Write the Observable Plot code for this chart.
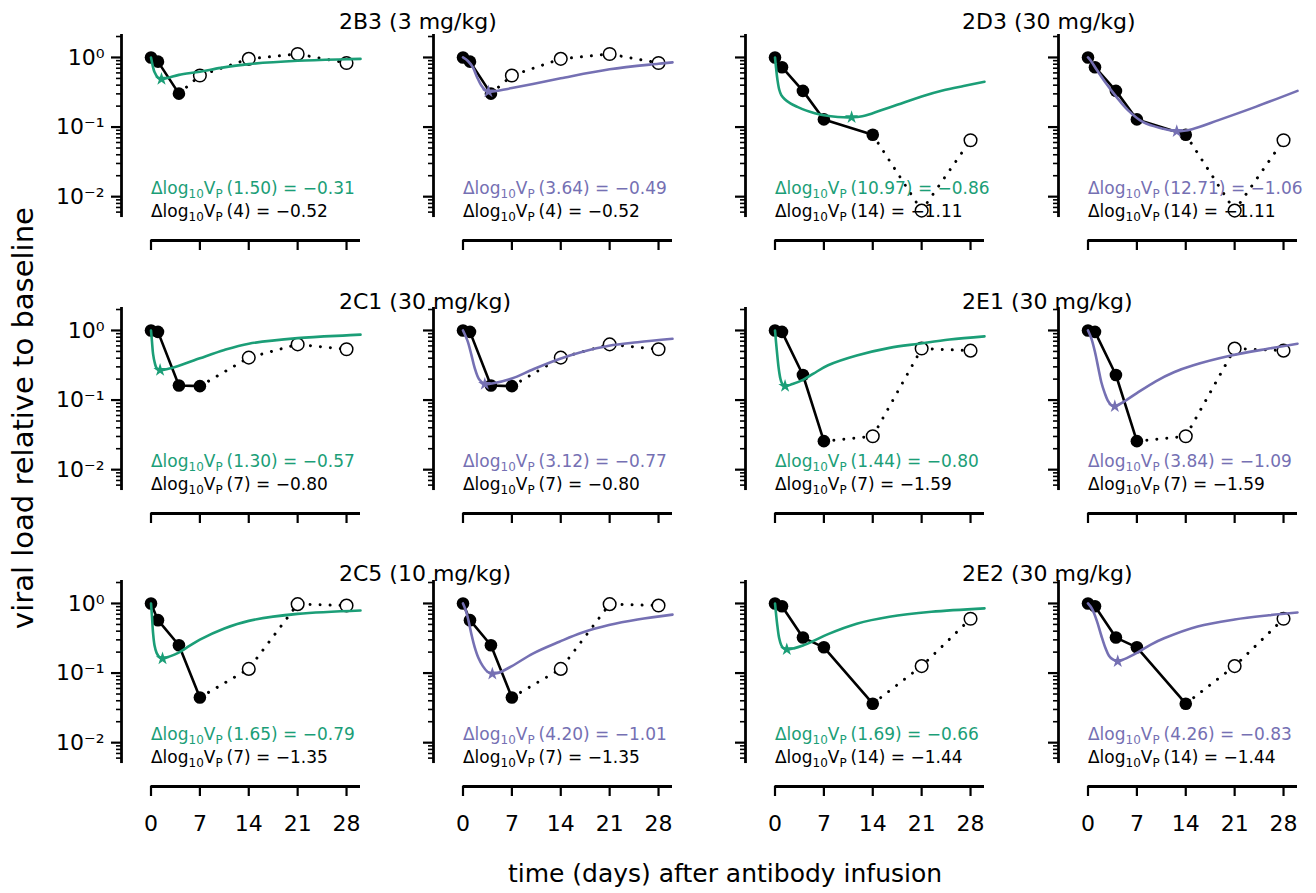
<!DOCTYPE html>
<html>
<head>
<meta charset="utf-8">
<script src="https://cdn.jsdelivr.net/npm/d3@7"></script>
<script src="https://cdn.jsdelivr.net/npm/@observablehq/plot@0.6"></script>
<style>
  body { margin: 0; background: #fff; }
  #root { position: relative; width: 1316px; height: 893px; font-family: "DejaVu Sans"; color: #000; background: #fff; overflow: hidden; }
  .lbl { position: absolute; white-space: nowrap; }
  .panel { position: absolute; }
</style>
</head>
<body>
<div id="root"></div>
<script>
// ---------------- data ----------------
const GREEN = "#1b9e77", PURPLE = "#7570b3";
const days = [0, 1, 4, 7, 14, 21, 28];
const ids = ["2B3", "2D3", "2C1", "2E1", "2C5", "2E2"];
const doses = ["3 mg/kg", "30 mg/kg", "30 mg/kg", "30 mg/kg", "10 mg/kg", "30 mg/kg"];

// observed log10 viral load relative to baseline, at `days`
const obs2B3 = [0, -0.06, -0.52, -0.26, -0.02, 0.05, -0.08];
const obs2D3 = [0, -0.14, -0.48, -0.89, -1.11, -2.20, -1.19];
const obs2C1 = [0, -0.02, -0.79, -0.80, -0.39, -0.20, -0.27];
const obs2E1 = [0, -0.02, -0.64, -1.59, -1.52, -0.26, -0.29];
const obs2C5 = [0, -0.24, -0.60, -1.35, -0.94, -0.01, -0.03];
const obs2E2 = [0, -0.04, -0.49, -0.63, -1.44, -0.90, -0.22];

// annotation values
const greenTmin = [1.50, 10.97, 1.30, 1.44, 1.65, 1.69];
const greenDrop = [-0.31, -0.86, -0.57, -0.80, -0.79, -0.66];
const purpleTmin = [3.64, 12.71, 3.12, 3.84, 4.20, 4.26];
const purpleDrop = [-0.49, -1.06, -0.77, -1.09, -1.01, -0.83];
const obsDay = [4, 14, 7, 7, 7, 14];
const obsDrop = [-0.52, -1.11, -0.80, -1.59, -1.35, -1.44];

// model fits: [day, log10 change]
const fitG_2B3 = [[0,0],[0.25,-0.12],[0.5,-0.21],[1,-0.29],[1.5,-0.31],[2.5,-0.29],[4,-0.25],[7,-0.205],[10,-0.15],[14,-0.096],[21,-0.048],[28,-0.025],[30,-0.02]];
const fitP_2B3 = [[0,0],[0.7,-0.05],[1.4,-0.14],[2,-0.28],[2.6,-0.40],[3.1,-0.46],[3.64,-0.49],[4.5,-0.485],[7,-0.44],[10,-0.38],[14,-0.30],[21,-0.17],[28,-0.09],[30,-0.07]];
const fitG_2D3 = [[0,0],[0.15,-0.15],[0.35,-0.32],[0.6,-0.46],[0.9,-0.54],[1.4,-0.60],[2.2,-0.66],[3.2,-0.71],[4.4,-0.76],[5.7,-0.80],[7,-0.83],[9,-0.855],[10.97,-0.86],[12.5,-0.845],[14,-0.80],[17.5,-0.68],[21,-0.56],[24,-0.475],[27,-0.41],[30,-0.35]];
const fitP_2D3 = [[0,0],[0.5,-0.06],[1.2,-0.17],[2.5,-0.36],[4.1,-0.57],[5.75,-0.76],[7.9,-0.93],[10.6,-1.02],[12.71,-1.06],[14.9,-1.03],[18.7,-0.90],[24,-0.71],[30,-0.48]];
const fitG_2C1 = [[0,0],[0.15,-0.17],[0.3,-0.34],[0.55,-0.47],[0.8,-0.54],[1.3,-0.57],[2.5,-0.55],[3.9,-0.51],[7,-0.40],[10.5,-0.28],[14,-0.19],[21,-0.11],[28,-0.07],[30,-0.06]];
const fitP_2C1 = [[0,0],[0.65,-0.15],[1.2,-0.35],[1.65,-0.53],[2.3,-0.70],[3.12,-0.77],[4.5,-0.755],[7,-0.69],[10,-0.56],[13.8,-0.41],[17,-0.31],[20.9,-0.22],[25,-0.17],[30,-0.12]];
const fitG_2E1 = [[0,0],[0.15,-0.17],[0.35,-0.38],[0.55,-0.56],[0.77,-0.69],[1.0,-0.76],[1.44,-0.80],[2.5,-0.77],[4,-0.71],[5.5,-0.62],[7.6,-0.50],[11.7,-0.36],[16.4,-0.25],[20.6,-0.19],[25,-0.13],[30,-0.085]];
const fitP_2E1 = [[0,0],[0.5,-0.12],[1.0,-0.31],[1.5,-0.55],[1.9,-0.74],[2.4,-0.90],[2.8,-1.0],[3.3,-1.07],[3.84,-1.09],[4.5,-1.06],[5.5,-1.0],[7,-0.90],[9.7,-0.73],[12.3,-0.60],[15.1,-0.50],[20.5,-0.36],[25.9,-0.26],[30,-0.19]];
const fitG_2C5 = [[0,0],[0.15,-0.2],[0.3,-0.43],[0.5,-0.60],[0.8,-0.71],[1.2,-0.77],[1.65,-0.79],[2.7,-0.76],[3.9,-0.71],[5.5,-0.61],[7,-0.52],[10.5,-0.36],[14,-0.25],[21,-0.15],[30,-0.10]];
const fitP_2C5 = [[0,0],[0.4,-0.10],[0.77,-0.24],[1.2,-0.44],[1.65,-0.62],[2.2,-0.78],[2.84,-0.90],[3.5,-0.98],[4.2,-1.01],[5,-1.0],[7,-0.90],[10,-0.72],[13.8,-0.55],[17,-0.42],[20.9,-0.31],[25,-0.23],[30,-0.16]];
const fitG_2E2 = [[0,0],[0.15,-0.15],[0.35,-0.33],[0.6,-0.50],[0.9,-0.60],[1.2,-0.64],[1.69,-0.66],[2.7,-0.645],[4,-0.605],[5.5,-0.54],[7.6,-0.44],[11.7,-0.29],[16.4,-0.19],[22.4,-0.12],[30,-0.07]];
const fitP_2E2 = [[0,0],[0.6,-0.08],[1.3,-0.26],[1.9,-0.46],[2.5,-0.64],[3.0,-0.75],[3.5,-0.80],[4.26,-0.83],[5.2,-0.80],[7,-0.71],[9,-0.59],[10.9,-0.50],[15.7,-0.33],[21,-0.23],[25.9,-0.17],[30,-0.13]];

const xTicks = [0, 7, 14, 21, 28];
const yMajor = [1, 0.1, 0.01];
const yMajorLabels = ["10\u2070", "10\u207B\u00B9", "10\u207B\u00B2"];
const xLabel = "time (days) after antibody infusion";
const yLabel = "viral load relative to baseline";

// ---------------- layout ----------------
const observed = [obs2B3, obs2D3, obs2C1, obs2E1, obs2C5, obs2E2];
const fits = [[fitG_2B3, fitP_2B3], [fitG_2D3, fitP_2D3], [fitG_2C1, fitP_2C1],
              [fitG_2E1, fitP_2E1], [fitG_2C5, fitP_2C5], [fitG_2E2, fitP_2E2]];

const X0 = [150, 462, 774.5, 1087];       // pixel of day 0 per column
const ROW1 = [56.7, 329.5, 603.3];        // pixel of 10^0 per row
const DEC = 69.6;                         // px per decade
const ML = 70, MR = 11, MT = 10, MB = 50, FW = 239;
const PXDAY = (FW - 29.5) / 30;
const XMIN = -29.5 / PXDAY;
const YTOP = 10 ** 0.33, YSPB = 10 ** -2.30, YBOT = 10 ** -2.63;
const FH = 2.96 * DEC;

const minorTicks = d3.scaleLog().domain([YSPB, YTOP]).ticks()
  .filter(v => Math.abs(Math.log10(v) - Math.round(Math.log10(v))) > 1e-6);

const fmt = v => (v < 0 ? "\u2212" : "") + Math.abs(v).toFixed(2);

const root = document.getElementById("root");

function panel(s, m, r, c) {
  const color = m === 0 ? GREEN : PURPLE;
  const tmin = m === 0 ? greenTmin[s] : purpleTmin[s];
  const drop = m === 0 ? greenDrop[s] : purpleDrop[s];
  const obs = days.map((d, i) => ({t: d, v: 10 ** observed[s][i]}));
  const k = days.indexOf(obsDay[s]);
  const filled = obs.slice(0, k + 1);
  const dotted = obs.slice(k);
  const openPts = obs.slice(k + 1);
  const fit = fits[s][m].map(([t, lv]) => ({t, v: 10 ** lv}));
  const star = [{t: tmin, v: 10 ** drop}];
  const annoModel = [`\u0394log10VP(${tmin.toFixed(2)}) = ${fmt(drop)}`];
  const annoObs = [`\u0394log10VP(${obsDay[s]}) = ${fmt(obsDrop[s])}`];

  const svg = Plot.plot({
    width: ML + FW + MR, height: MT + FH + MB,
    marginLeft: ML, marginRight: MR, marginTop: MT, marginBottom: MB,
    style: {background: "none", overflow: "visible", fontFamily: "DejaVu Sans", fontSize: "22px", color: "black"},
    x: {domain: [XMIN, 30], axis: null, label: null},
    y: {type: "log", domain: [YBOT, YTOP], axis: null, label: null},
    marks: [
      Plot.ruleX([XMIN], {y1: () => YSPB, y2: () => YTOP, stroke: "black", strokeWidth: 2.8}),
      Plot.axisY(minorTicks, {anchor: "left", tickSize: 5, strokeWidth: 1.6, tickFormat: () => "", label: null}),
      Plot.axisY(yMajor, {anchor: "left", tickSize: 10, tickPadding: 7, strokeWidth: 2.2, label: null,
        tickFormat: c === 0 ? (v => yMajorLabels[yMajor.indexOf(v)]) : () => ""}),
      Plot.ruleY([YBOT], {x1: () => 0, x2: () => 30, stroke: "black", strokeWidth: 2.8}),
      Plot.axisX(xTicks, {anchor: "bottom", tickSize: 10, tickPadding: 19, strokeWidth: 2.2, label: null,
        tickFormat: r === 2 ? (d => String(d)) : () => ""}),
      Plot.line(dotted, {x: "t", y: "v", stroke: "black", strokeWidth: 3, strokeDasharray: "0.01 10", strokeLinecap: "round"}),
      Plot.dot(openPts, {x: "t", y: "v", r: 6.3, fill: "white", stroke: "black", strokeWidth: 1.5}),
      Plot.line(filled, {x: "t", y: "v", stroke: "black", strokeWidth: 2.6}),
      Plot.dot(filled, {x: "t", y: "v", r: 6.3, fill: "black", stroke: "none"}),
      Plot.line(fit, {x: "t", y: "v", stroke: color, strokeWidth: 2.6, curve: "catmull-rom"}),
      Plot.dot(star, {x: "t", y: "v", symbol: "star", r: 4.2, fill: color, stroke: "none"}),
      Plot.text(annoModel, {x: () => 0, y: () => YSPB, text: d => d, textAnchor: "start", lineAnchor: "middle",
        dy: -29.4, fontSize: 17, fill: color, className: "anno"}),
      Plot.text(annoObs, {x: () => 0, y: () => YSPB, text: d => d, textAnchor: "start", lineAnchor: "middle",
        dy: -6.4, fontSize: 17, fill: "black", className: "anno"})
    ]
  });

  // subscripts in annotations
  d3.select(svg).selectAll("g.anno text").each(function () {
    const str = this.textContent;
    const rest = str.slice("\u0394log10VP".length);
    const el = d3.select(this);
    el.text(null);
    el.append("tspan").text("\u0394log");
    el.append("tspan").attr("dy", 4).attr("font-size", 12).text("10");
    el.append("tspan").attr("dy", -4).text("V");
    el.append("tspan").attr("dy", 4).attr("font-size", 12).text("P");
    el.append("tspan").attr("dy", -4).attr("dx", 4).text(rest);
  });

  const div = document.createElement("div");
  div.className = "panel";
  div.style.left = (X0[c] - 29.5 - ML) + "px";
  div.style.top = (ROW1[r] - 0.33 * DEC - MT) + "px";
  div.appendChild(svg);
  root.appendChild(div);
}

for (let s = 0; s < 6; s++) {
  const r = Math.floor(s / 2);
  const pair = s % 2;
  panel(s, 0, r, pair * 2);
  panel(s, 1, r, pair * 2 + 1);
}

// titles
const titleLeft = [339, 962];
const titleBase = [30, 310, 582];
for (let s = 0; s < 6; s++) {
  const r = Math.floor(s / 2), pair = s % 2;
  const d = document.createElement("div");
  d.className = "lbl";
  d.style.fontSize = "22px";
  d.style.lineHeight = "22px";
  d.style.left = titleLeft[pair] + "px";
  d.style.top = (titleBase[r] - 18.6) + "px";
  d.textContent = `${ids[s]} (${doses[s]})`;
  root.appendChild(d);
}

// axis labels
const xl = document.createElement("div");
xl.className = "lbl";
xl.style.fontSize = "25px"; xl.style.lineHeight = "25px";
xl.style.left = "725px"; xl.style.top = "861px";
xl.style.transform = "translateX(-50%)";
xl.textContent = xLabel;
root.appendChild(xl);

const yl = document.createElement("div");
yl.className = "lbl";
yl.style.fontSize = "29px"; yl.style.lineHeight = "29px";
yl.style.left = "23px"; yl.style.top = "418px";
yl.style.transform = "translate(-50%, -50%) rotate(-90deg)";
yl.textContent = yLabel;
root.appendChild(yl);
</script>
</body>
</html>
